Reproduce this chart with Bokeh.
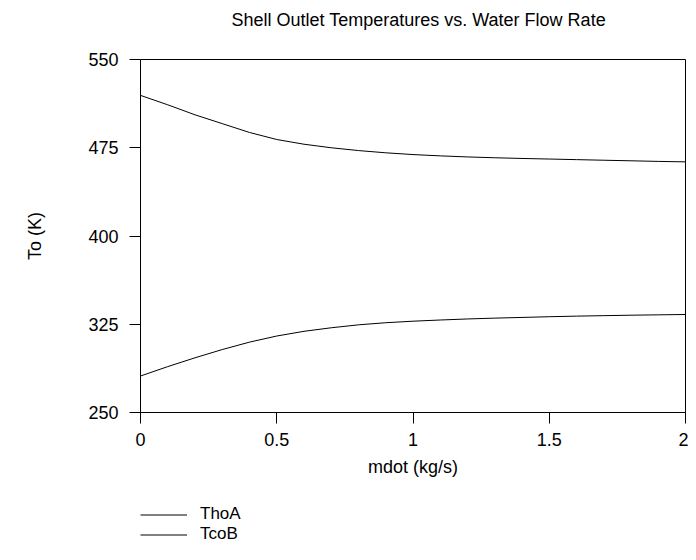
from bokeh.plotting import figure
from bokeh.layouts import column
from bokeh.models import Range1d, FixedTicker, PrintfTickFormatter, Legend, LegendItem, Title
from bokeh.embed import file_html
from bokeh.resources import INLINE

# ---- data ----
mdot = [0.0, 0.1, 0.2, 0.3, 0.4, 0.5, 0.6, 0.7, 0.8, 0.9, 1.0,
        1.1, 1.2, 1.3, 1.4, 1.5, 1.6, 1.7, 1.8, 1.9, 2.0]
thoa = [519.5, 511.5, 503.0, 495.5, 488.0, 482.0, 478.0, 475.0, 472.6, 470.7, 469.2,
        468.1, 467.2, 466.5, 465.9, 465.4, 464.9, 464.4, 463.9, 463.4, 463.0]
tcob = [281.0, 289.0, 296.5, 303.5, 309.8, 315.0, 319.0, 322.0, 324.5, 326.3, 327.6,
        328.6, 329.5, 330.2, 330.8, 331.4, 331.9, 332.3, 332.7, 333.0, 333.3]
x_ticks = [0, 0.5, 1, 1.5, 2]
y_ticks = [250, 325, 400, 475, 550]
series_names = ["ThoA", "TcoB"]
title_text = "Shell Outlet Temperatures vs. Water Flow Rate"

FONT = "Liberation Sans"
FS = "18px"

p = figure(width=688, height=484, output_backend="svg", toolbar_location=None,
           x_range=Range1d(0, 2), y_range=Range1d(250, 550),
           min_border_left=140, min_border_right=3, min_border_top=59,
           min_border_bottom=72, title=None,
           x_axis_label="mdot (kg/s)", y_axis_label="To (K)")

p.background_fill_color = "white"
p.border_fill_color = "white"
p.outline_line_color = "black"
p.outline_line_width = 1
p.xgrid.visible = False
p.ygrid.visible = False

# blank spacer panel next to the frame, then the real title above it
spacer = Title(text=" ", text_font=FONT, text_font_size="1px", standoff=27)
p.add_layout(spacer, "above")
main_title = Title(text=title_text, align="left", offset=91,
                   text_font=FONT, text_font_size=FS, text_font_style="normal",
                   text_color="black", standoff=0)
p.add_layout(main_title, "above")

for ax in (p.xaxis[0], p.yaxis[0]):
    ax.axis_line_color = "black"
    ax.major_tick_line_color = "black"
    ax.major_tick_out = 11
    ax.major_tick_in = 0
    ax.minor_tick_line_color = None
    ax.major_label_text_font = FONT
    ax.major_label_text_font_size = FS
    ax.major_label_text_color = "black"
    ax.axis_label_text_font = FONT
    ax.axis_label_text_font_size = FS
    ax.axis_label_text_font_style = "normal"
    ax.axis_label_text_color = "black"

p.xaxis.ticker = FixedTicker(ticks=x_ticks)
p.xaxis.formatter = PrintfTickFormatter(format="%g")
p.yaxis.ticker = FixedTicker(ticks=y_ticks)
p.yaxis.formatter = PrintfTickFormatter(format="%g")
p.xaxis.major_label_standoff = 9
p.yaxis.major_label_standoff = 11
p.xaxis.axis_label_standoff = 8
p.yaxis.axis_label_standoff = 40

p.line(mdot, thoa, line_color="black", line_width=1)
p.line(mdot, tcob, line_color="black", line_width=1)

# ---- legend strip below the plot (its frame aligns with the main frame) ----
lg = figure(width=688, height=60, output_backend="svg", toolbar_location=None,
            x_range=Range1d(0, 1), y_range=Range1d(0, 1),
            x_axis_type=None, y_axis_type=None, min_border=0)
lg.outline_line_color = None
lg.xgrid.visible = False
lg.ygrid.visible = False
lg.background_fill_color = "white"
lg.border_fill_color = "white"
# same series, outside this strip's range, so only their legend glyphs show
d1 = lg.line(mdot, thoa, line_color="black", line_width=1)
d2 = lg.line(mdot, tcob, line_color="black", line_width=1)

legend = Legend(items=[LegendItem(label=series_names[0], renderers=[d1]),
                       LegendItem(label=series_names[1], renderers=[d2])],
                location=(0, 0))
legend.padding = 0
legend.margin = 0
legend.spacing = 0
legend.border_line_color = None
legend.background_fill_alpha = 0
legend.glyph_width = 47
legend.glyph_height = 17
legend.label_height = 17
legend.label_standoff = 13
legend.label_text_font = FONT
legend.label_text_font_size = "17px"
legend.label_text_color = "black"
lg.add_layout(legend, "center")

layout = column(p, lg, spacing=0)
open("out.html", "w").write(file_html(layout, INLINE))
